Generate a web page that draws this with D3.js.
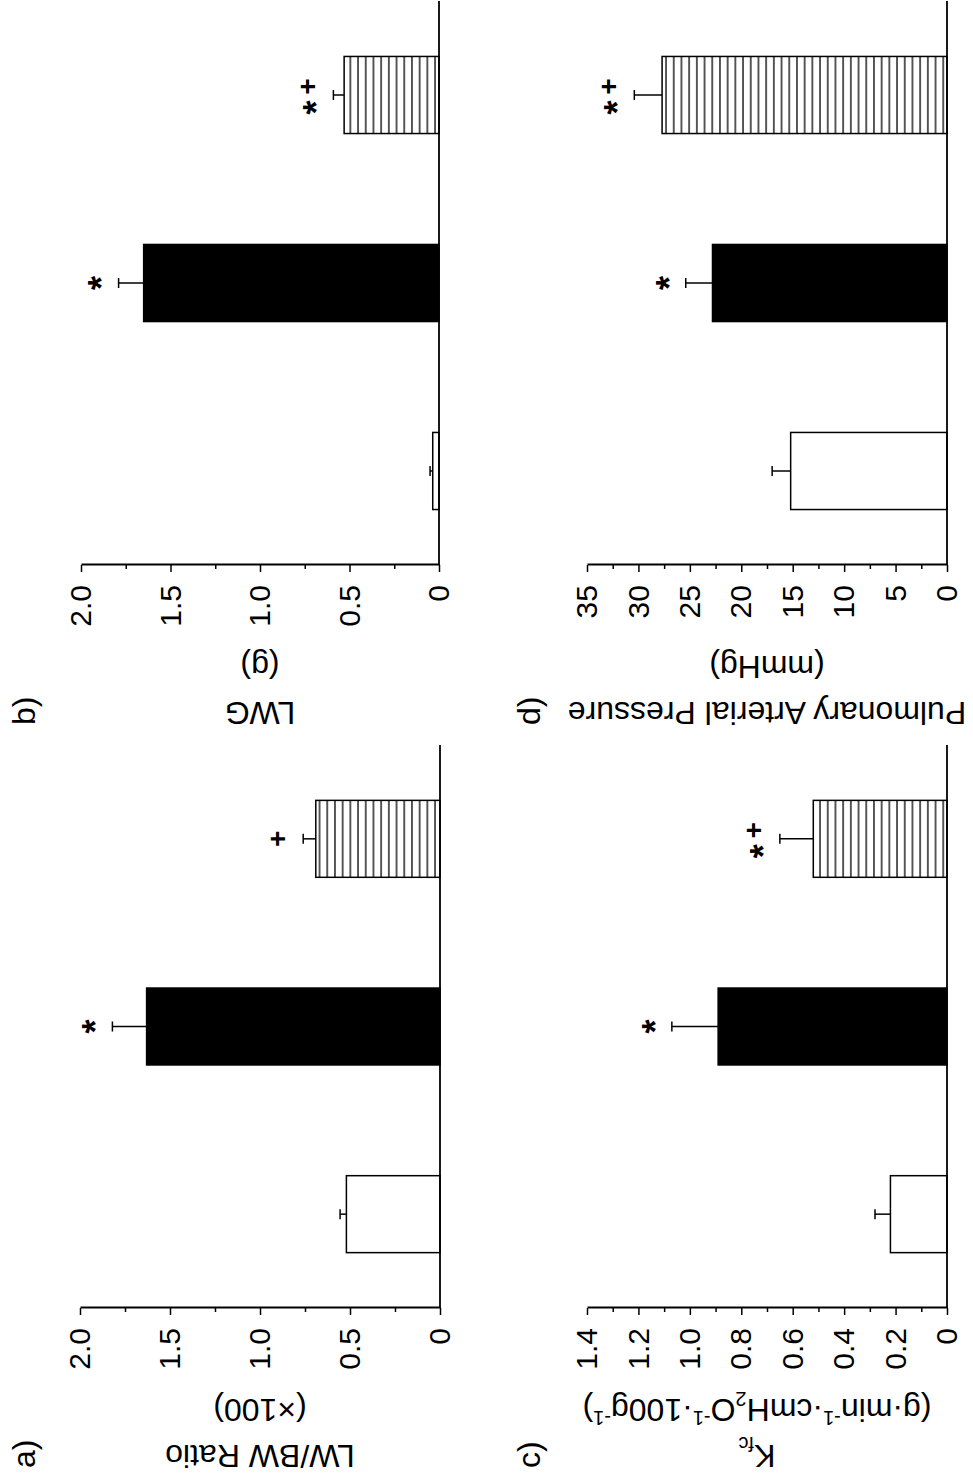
<!DOCTYPE html>
<html>
<head>
<meta charset="utf-8">
<script src="https://cdn.jsdelivr.net/npm/d3@7"></script>
<style>
  body { margin: 0; background: #fff; }
  svg { display: block; }
  text { font-family: Arial, "Liberation Sans", sans-serif; fill: #000; }
</style>
</head>
<body>
<svg width="973" height="1482"></svg>
<script>
// three treatment groups (unlabelled in the figure)
const groups = ["Group 1", "Group 2", "Group 3"];
const fills = ["#fff", "#000", "url(#hatch)"];

// a) LW/BW ratio (x100)
const lwbwMean = [0.52, 1.63, 0.69];
const lwbwSem = [0.035, 0.19, 0.07];
const lwbwSig = ["", "*", "+"];

// b) LWG (g)
const lwgMean = [0.035, 1.65, 0.53];
const lwgSem = [0.015, 0.14, 0.06];
const lwgSig = ["", "*", "*+"];

// c) Kfc
const kfcMean = [0.22, 0.89, 0.52];
const kfcSem = [0.06, 0.18, 0.13];
const kfcSig = ["", "*", "*+"];

// d) pulmonary arterial pressure (mmHg)
const papMean = [15.2, 22.8, 27.7];
const papSem = [1.8, 2.6, 2.7];
const papSig = ["", "*", "*+"];

const ticks2 = [0, 0.5, 1.0, 1.5, 2.0];
const minor2 = [0.25, 0.75, 1.25, 1.75];
const ticksKfc = [0, 0.2, 0.4, 0.6, 0.8, 1.0, 1.2, 1.4];
const minorKfc = [0.1, 0.3, 0.5, 0.7, 0.9, 1.1, 1.3];
const ticksPap = [0, 5, 10, 15, 20, 25, 30, 35];
const minorPap = [2.5, 7.5, 12.5, 17.5, 22.5, 27.5, 32.5];

const fmt1 = (d) => (d === 0 ? "0" : d3.format(".1f")(d));
const fmt0 = (d) => String(d);

const svg = d3.select("svg");

const defs = svg.append("defs");
const hatch = defs
  .append("pattern")
  .attr("id", "hatch")
  .attr("patternUnits", "userSpaceOnUse")
  .attr("width", 20)
  .attr("height", 7.7);
hatch.append("rect").attr("width", 20).attr("height", 7.7).attr("fill", "#fff");
hatch
  .append("line")
  .attr("x1", 0)
  .attr("x2", 20)
  .attr("y1", 3.85)
  .attr("y2", 3.85)
  .attr("stroke", "#000")
  .attr("stroke-width", 1.3);

// the figure is laid out upright (1482 wide, 973 tall) and then turned
const root = svg.append("g").attr("transform", "translate(0,1482) rotate(-90)");

const panels = [
  {
    tag: "a)", mean: lwbwMean, sem: lwbwSem, sig: lwbwSig,
    domain: [0, 2], ticks: ticks2, minor: minor2, fmt: fmt1,
    axisX: 174, catEnd: 737, valRange: [440, 80],
    title: ["LW/BW Ratio"], unit: "(×100)", labelY: 35,
  },
  {
    tag: "b)", mean: lwgMean, sem: lwgSem, sig: lwgSig,
    domain: [0, 2], ticks: ticks2, minor: minor2, fmt: fmt1,
    axisX: 917, catEnd: 1481, valRange: [439, 81],
    title: ["LWG"], unit: "(g)", labelY: 35,
  },
  {
    tag: "c)", mean: kfcMean, sem: kfcSem, sig: kfcSig,
    domain: [0, 1.4], ticks: ticksKfc, minor: minorKfc, fmt: fmt1,
    axisX: 174, catEnd: 737, valRange: [947, 587],
    title: null, unit: null, labelY: 540, titleMid: 757,
  },
  {
    tag: "d)", mean: papMean, sem: papSem, sig: papSig,
    domain: [0, 35], ticks: ticksPap, minor: minorPap, fmt: fmt0,
    axisX: 917, catEnd: 1481, valRange: [947, 587],
    title: ["Pulmonary Arterial Pressure"], unit: "(mmHg)", labelY: 540,
  },
];

function drawPanel(p) {
  const g = root.append("g");
  const x = d3
    .scaleBand()
    .domain(groups)
    .range([p.axisX, p.catEnd])
    .paddingInner(0.59)
    .paddingOuter(0.295);
  const y = d3.scaleLinear().domain(p.domain).range(p.valRange);

  // bars
  const rows = groups.map((k, i) => ({ k, i, m: p.mean[i], s: p.sem[i], sig: p.sig[i] }));
  g.selectAll("rect.bar")
    .data(rows)
    .join("rect")
    .attr("class", "bar")
    .attr("x", (d) => x(d.k))
    .attr("width", x.bandwidth())
    .attr("y", (d) => y(d.m))
    .attr("height", (d) => y(0) - y(d.m))
    .attr("fill", (d) => fills[d.i])
    .attr("stroke", "#000")
    .attr("stroke-width", 1.5);

  // upper error bars
  const cx = (d) => x(d.k) + x.bandwidth() / 2;
  g.selectAll("line.err")
    .data(rows)
    .join("line")
    .attr("class", "err")
    .attr("x1", cx)
    .attr("x2", cx)
    .attr("y1", (d) => y(d.m))
    .attr("y2", (d) => y(d.m + d.s))
    .attr("stroke", "#000")
    .attr("stroke-width", 1.5);
  g.selectAll("line.cap")
    .data(rows)
    .join("line")
    .attr("class", "cap")
    .attr("x1", (d) => cx(d) - 5)
    .attr("x2", (d) => cx(d) + 5)
    .attr("y1", (d) => y(d.m + d.s))
    .attr("y2", (d) => y(d.m + d.s))
    .attr("stroke", "#000")
    .attr("stroke-width", 1.5);

  // significance marks, one text per symbol
  const marks = [];
  rows.forEach((d) => {
    const chars = d.sig.split("");
    chars.forEach((c, j) => {
      const off = chars.length > 1 ? (j - (chars.length - 1) / 2) * 21 - 2 : 0;
      marks.push({ c, x: cx(d) + off, top: y(d.m + d.s) });
    });
  });
  g.selectAll("text.sig")
    .data(marks)
    .join("text")
    .attr("class", "sig")
    .attr("x", (d) => d.x)
    .attr("y", (d) => (d.c === "*" ? d.top - 25 + 0.58 * 36 : d.top - 26 + 0.34 * 28))
    .attr("text-anchor", "middle")
    .attr("font-size", (d) => (d.c === "*" ? 36 : 28))
    .attr("font-weight", "bold")
    .text((d) => d.c);

  // category baseline
  g.append("line")
    .attr("x1", p.axisX)
    .attr("x2", p.catEnd)
    .attr("y1", y(0))
    .attr("y2", y(0))
    .attr("stroke", "#000")
    .attr("stroke-width", 1.8);

  // value axis: minor then major ticks
  g.append("g")
    .attr("transform", `translate(${p.axisX},0)`)
    .call(d3.axisLeft(y).tickValues(p.minor).tickSize(4).tickFormat(""))
    .call((a) => a.select(".domain").remove())
    .call((a) => a.selectAll("line").attr("stroke-width", 1.5));

  g.append("g")
    .attr("transform", `translate(${p.axisX},0)`)
    .call(
      d3.axisLeft(y)
        .tickValues(p.ticks)
        .tickSize(7)
        .tickSizeOuter(0)
        .tickPadding(13)
        .tickFormat(p.fmt)
    )
    .call((a) => a.select(".domain").attr("stroke-width", 1.8))
    .call((a) => a.selectAll("line").attr("stroke-width", 1.5))
    .call((a) =>
      a.selectAll("text")
        .attr("font-size", 30)
        .attr("font-family", 'Arial, "Liberation Sans", sans-serif')
    );

  // axis titles
  const mid = p.titleMid ?? (p.valRange[0] + p.valRange[1]) / 2;
  const t1 = g.append("text")
    .attr("transform", `translate(${p.axisX - 137},${mid}) rotate(-90)`)
    .attr("text-anchor", "middle")
    .attr("font-size", 32);
  const t2 = g.append("text")
    .attr("transform", `translate(${p.axisX - 91},${mid}) rotate(-90)`)
    .attr("text-anchor", "middle")
    .attr("font-size", 32);

  if (p.title) {
    t1.text(p.title[0]);
    t2.text(p.unit);
  } else {
    t1.append("tspan").text("K");
    t1.append("tspan").attr("font-size", 20).attr("dy", 8).text("fc");
    const parts = [
      ["(g·min", 0], ["-1", 1], ["·cmH", 0], ["2", -1], ["O", 0],
      ["-1", 1], ["·100g", 0], ["-1", 1], [")", 0],
    ];
    let shift = 0;
    parts.forEach(([s, kind]) => {
      const target = kind === 1 ? -12 : kind === -1 ? 7 : 0;
      t2.append("tspan")
        .attr("font-size", kind === 0 ? 32 : 20)
        .attr("dy", target - shift)
        .text(s);
      shift = target;
    });
  }

  // panel letter
  g.append("text")
    .attr("x", p.axisX - 160)
    .attr("y", p.labelY)
    .attr("font-size", 32)
    .text(p.tag);
}

panels.forEach(drawPanel);
</script>
</body>
</html>
